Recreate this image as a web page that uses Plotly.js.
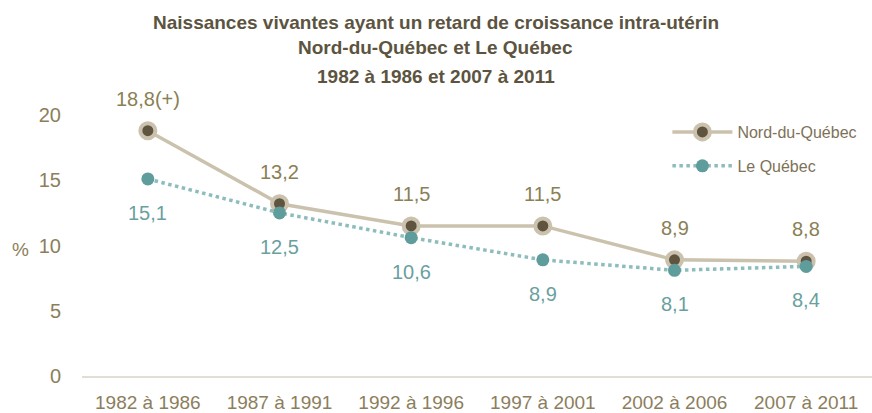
<!DOCTYPE html>
<html><head><meta charset="utf-8">
<script src="https://cdn.plot.ly/plotly-3.0.1.min.js"></script>
<style>body{margin:0;background:#fff}#c{width:872px;height:413px}</style>
</head><body><div id="c"></div>
<script>
const categories = ["1982 à 1986","1987 à 1991","1992 à 1996","1997 à 2001","2002 à 2006","2007 à 2011"];
const nordValues = [18.8, 13.2, 11.5, 11.5, 8.9, 8.8];
const nordLabels = ["18,8(+)","13,2","11,5","11,5","8,9","8,8"];
const quebecValues = [15.1, 12.5, 10.6, 8.9, 8.1, 8.4];
const quebecLabels = ["15,1","12,5","10,6","8,9","8,1","8,4"];
const yTicks = [0,5,10,15,20];
const titleLines = ["Naissances vivantes ayant un retard de croissance intra-utérin","Nord-du-Québec et Le Québec","1982 à 1986 et 2007 à 2011"];

const fam = '"Liberation Sans", Arial, sans-serif';
const tickCol = '#8c7e5c';
const nordText = '#8a8055';
const qcText = '#6a9fa0';

const traces = [
  {x: categories, y: nordValues, name: 'Nord-du-Québec', mode: 'lines+markers', legend: 'legend',
   line: {color: '#cbc2ae', width: 3.5},
   marker: {color: '#5e5440', size: 15, line: {color: '#cbc2ae', width: 4}}},
  {x: categories, y: quebecValues, name: 'Le Québec', mode: 'lines+markers', legend: 'legend2',
   line: {color: '#8dbcbc', width: 3.5, dash: 'dot'},
   marker: {color: '#5f9c9c', size: 13}}
];

const ann = [];
categories.forEach((c,i)=>{
  ann.push({x: c, y: nordValues[i], text: nordLabels[i], showarrow: false, yshift: 32,
    font: {family: fam, size: 20, color: nordText}});
  ann.push({x: c, y: quebecValues[i], text: quebecLabels[i], showarrow: false, yshift: -34,
    font: {family: fam, size: 20, color: qcText}});
});
ann.push({xref: 'paper', yref: 'paper', x: -0.078, y: 0.483, xanchor: 'center', text: '%', showarrow: false,
  font: {family: fam, size: 19, color: tickCol}});
const titleY = [1.356, 1.257, 1.149];
titleLines.forEach((t,i)=>{
  ann.push({xref: 'paper', yref: 'paper', x: 0.448, y: titleY[i], xanchor: 'center', yanchor: 'middle',
    text: '<b>' + t + '</b>', showarrow: false, font: {family: fam, size: 19, color: '#5c5440'}});
});

const legFont = {family: fam, size: 16, color: '#7d7258'};
const layout = {
  width: 872, height: 413,
  margin: {l: 82, r: 0, t: 115, b: 37},
  paper_bgcolor: '#fff', plot_bgcolor: '#fff',
  showlegend: true,
  legend: {x: 0.741, y: 1.0, xanchor: 'left', yanchor: 'top', bgcolor: 'rgba(0,0,0,0)', font: legFont, itemwidth: 60},
  legend2: {x: 0.741, y: 0.870, xanchor: 'left', yanchor: 'top', bgcolor: 'rgba(0,0,0,0)', font: legFont, itemwidth: 60},
  xaxis: {type: 'category', showgrid: false, zeroline: false, showline: true, linecolor: '#e3ded4', linewidth: 2,
    ticks: '', tickfont: {family: fam, size: 19, color: tickCol}, ticklabelstandoff: 8, range: [-0.5, 5.5]},
  yaxis: {range: [0, 20], tickvals: yTicks, showgrid: false, zeroline: false, showline: false, ticks: '',
    tickfont: {family: fam, size: 20, color: tickCol}, ticklabelstandoff: 20},
  annotations: ann
};
Plotly.newPlot('c', traces, layout, {staticPlot: true});
</script></body></html>
